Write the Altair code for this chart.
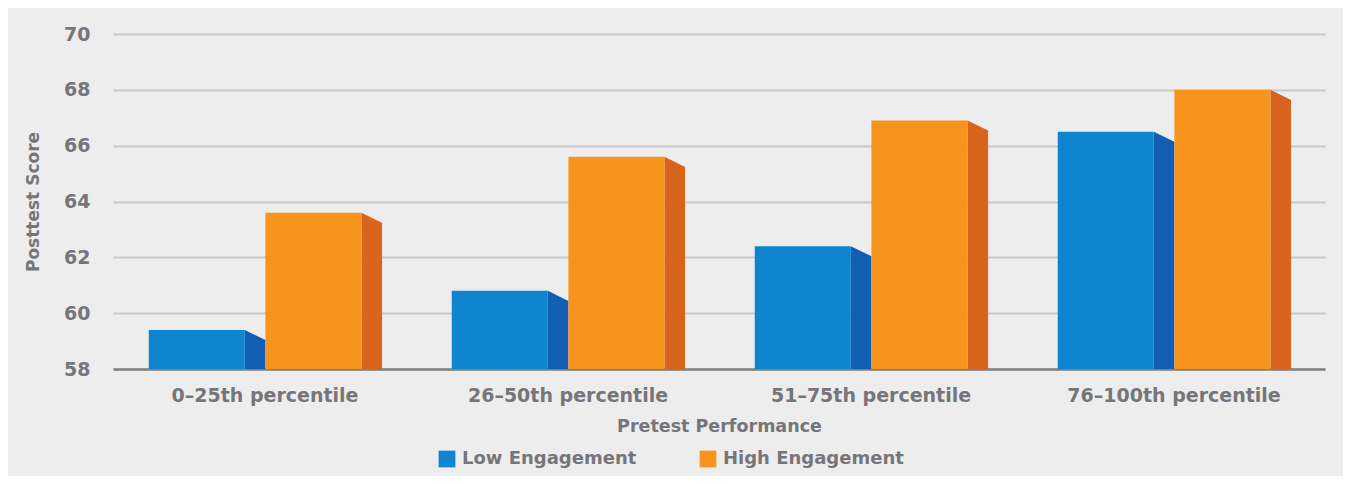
import altair as alt
import pandas as pd

categories = ["0–25th percentile", "26–50th percentile", "51–75th percentile", "76–100th percentile"]
series = ["Low Engagement", "High Engagement"]
low_values = [59.4, 60.8, 62.4, 66.5]
high_values = [63.6, 65.6, 66.9, 68.0]

front_colors = ["#0F85CF", "#F7941E"]
side_colors = ["#125EB3", "#D9641E"]

rows = []
for i, c in enumerate(categories):
    rows.append({"category": c, "idx": i, "series": series[0], "sidx": 0, "value": low_values[i]})
    rows.append({"category": c, "idx": i, "series": series[1], "sidx": 1, "value": high_values[i]})
df = pd.DataFrame(rows)

FRONT_W = 0.317
SIDE_W = 0.068
START = -0.382
DEPTH = 0.36
BASE = 58

label_expr = "[" + ",".join("'%s'" % c for c in categories) + "][datum.value]"

FONT = "DejaVu Sans"
TXT = "#76767A"

base = alt.Chart(df).transform_calculate(
    x0=f"datum.idx + {START} + datum.sidx * ({FRONT_W} + {SIDE_W})",
    x1=f"datum.idx + {START} + datum.sidx * ({FRONT_W} + {SIDE_W}) + {FRONT_W}",
)

xscale = alt.Scale(domain=[-0.5, 3.5], nice=False, zero=False)
yscale = alt.Scale(domain=[58, 70], nice=False, zero=False)

front = base.mark_rect().encode(
    x=alt.X("x0:Q", scale=xscale,
            axis=alt.Axis(values=[0, 1, 2, 3], labelExpr=label_expr, title="Pretest Performance",
                          grid=False, ticks=False, domain=True, domainColor="#808080", domainWidth=2.5,
                          labelPadding=17, titlePadding=12, labelFont=FONT, labelFontSize=19,
                          labelLimit=0, labelFontWeight="bold", labelColor=TXT, titleFont=FONT,
                          titleFontSize=17.5, titleFontWeight="bold", titleColor=TXT)),
    x2="x1:Q",
    y=alt.Y("value:Q", scale=yscale,
            axis=alt.Axis(values=[58, 60, 62, 64, 66, 68, 70], title="Posttest Score", grid=True,
                          gridColor="#C9C9C9", gridWidth=2, ticks=False, domain=False,
                          labelPadding=23, titlePadding=21, labelFont=FONT, labelFontSize=19,
                          labelFontWeight="bold", labelColor=TXT, titleFont=FONT, titleFontSize=17,
                          titleFontWeight="bold", titleColor=TXT)),
    y2=alt.datum(BASE),
    color=alt.Color("series:N", scale=alt.Scale(domain=series, range=front_colors),
                    legend=alt.Legend(title=None, orient="none", direction="horizontal",
                                      legendX=325, legendY=416, symbolType="square", symbolSize=280,
                                      symbolStrokeWidth=0, symbolOpacity=1, labelFont=FONT,
                                      labelFontSize=18, labelLimit=0, labelFontWeight="bold",
                                      labelColor=TXT, columnPadding=62, labelOffset=6, padding=0)),
)

side = base.transform_calculate(
    s0="datum.x1",
    s1=f"datum.x1 + {SIDE_W}",
    key="datum.category + '|' + datum.series",
).transform_fold(["s0", "s1"], as_=["pt", "xs"]).transform_calculate(
    ytop=f"datum.pt == 's0' ? datum.value : datum.value - {DEPTH}"
).mark_area(interpolate="linear").encode(
    x=alt.X("xs:Q", scale=xscale),
    y=alt.Y("ytop:Q", scale=yscale, stack=None),
    y2=alt.datum(BASE),
    detail="key:N",
    color=alt.condition(alt.datum.sidx == 0, alt.value(side_colors[0]), alt.value(side_colors[1])),
)

chart = alt.layer(side, front).properties(
    width=1212, height=335,
    padding={"left": 105, "top": 26, "right": 18, "bottom": 107},
    autosize=alt.AutoSizeParams(type="none"),
    background="#EDEDED",
).configure_view(stroke=None)

chart.save("out.html", embed_options={"renderer": "svg", "actions": False})
